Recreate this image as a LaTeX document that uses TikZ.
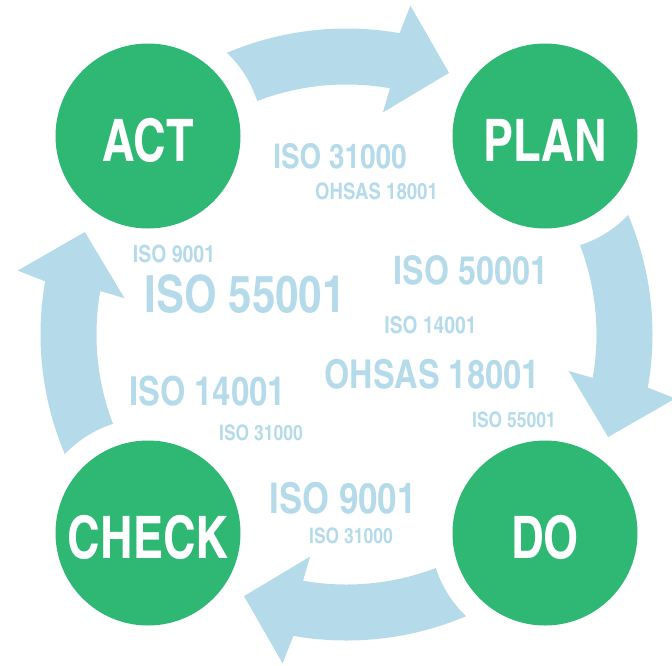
\documentclass[tikz,border=0pt]{standalone}
\usepackage{fontspec}
\newfontfamily\condfont{texgyreheroscn-bold.otf}
\newfontfamily\phasefont{texgyreheroscn-bold.otf}[FakeStretch=0.94]
\definecolor{pdcagreen}{RGB}{46,184,116}
\definecolor{isoblue}{RGB}{181,219,234}
\tikzset{every picture/.style={line width=0.75pt}}

\begin{document}
\begin{tikzpicture}[x=0.75pt,y=0.75pt,yscale=-1,xscale=1,
	phase/.style={circle, fill=pdcagreen, minimum size=138.75pt, inner sep=0pt, text=white, text height=38.7pt, text depth=0pt, font=\phasefont\fontsize{44}{44}\selectfont, preaction={draw=white, line width=33pt}},
	isotext/.style={text=isoblue, inner sep=0pt, font=\condfont\fontsize{#1}{#1}\selectfont},
	cyclearrow/.style={fill=isoblue}]
	\useasboundingbox (0,0) rectangle (672,665);
	\coordinate (o) at (346.5,334.5);
	
	%Shape: cycle arrows, one per quarter
	\foreach \a in {0,-90,-180,-270}{
		\begin{scope}[shift={(o)}, yscale=-1, rotate=\a]
			\fill[cyclearrow] (125:250) arc[start angle=125, end angle=80, radius=250] -- (80.7:225) -- (68.6:281) -- (79:335) -- (80:306) arc[start angle=80, end angle=125, radius=306] -- cycle ;
		\end{scope}
	}
	
	%Shape: PDCA circles
	\node[phase] (act) at (148,136) {ACT};
	\node[phase] (plan) at (545,136) {PLAN};
	\node[phase] (check) at (148,533) {CHECK};
	\node[phase] (do) at (545,533) {DO};
	
	\node[isotext=25.5] (iso31000a) at (340,156) {ISO 31000};
	\node[isotext=17] (ohsasa) at (376.5,191) {OHSAS 18001};
	\node[isotext=17.8] (iso9001a) at (174,253.5) {ISO 9001};
	\node[isotext=38.5] (iso55001a) at (245,294) {ISO 55001};
	\node[isotext=29.5] (iso50001) at (471,270.5) {ISO 50001};
	\node[isotext=17.6] (iso14001a) at (430.5,325) {ISO 14001};
	\node[isotext=29.8] (ohsasb) at (432,374) {OHSAS 18001};
	\node[isotext=30] (iso14001b) at (207.5,391.5) {ISO 14001};
	\node[isotext=16] (iso55001b) at (514,419.5) {ISO 55001};
	\node[isotext=16] (iso31000b) at (261,432.5) {ISO 31000};
	\node[isotext=31.8] (iso9001b) at (343,498) {ISO 9001};
	\node[isotext=16] (iso31000c) at (351,535.5) {ISO 31000};
	
\end{tikzpicture}
\end{document}
